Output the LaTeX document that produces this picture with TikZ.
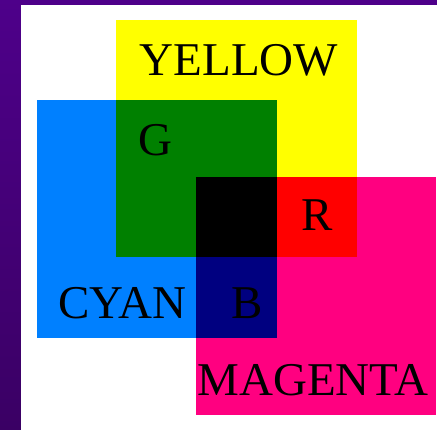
\documentclass[tikz,border=0pt]{standalone}
\usepackage{fontspec}
\setmainfont{Liberation Serif}
\definecolor{bandtop}{RGB}{78,0,138}
\definecolor{bandbot}{RGB}{58,0,100}
\definecolor{cyanc}{RGB}{0,128,255}
\definecolor{magc}{RGB}{255,0,128}
\definecolor{greenc}{RGB}{0,128,0}
\definecolor{navyc}{RGB}{0,0,128}
\definecolor{redc}{RGB}{255,0,0}
\definecolor{yelc}{RGB}{255,255,0}
\tikzset{lbl/.style={font=\fontsize{47}{47}\selectfont, anchor=base, inner sep=0pt, text=black}}
\begin{document}
\begin{tikzpicture}[x=1pt,y=-1pt]
\useasboundingbox (0,0) rectangle (437,429);
\shade[top color=bandtop, bottom color=bandbot] (-2,-2) rectangle (439,431);
\fill[white] (21,5) rectangle (440,432);
% primaries
\fill[yelc] (116,20) rectangle (357,257);
\fill[cyanc] (37,100) rectangle (277,338);
\fill[magc] (196,177) rectangle (436,415);
% overlaps
\fill[greenc] (116,100) rectangle (277,257);
\fill[navyc] (196,177) rectangle (277,338);
\fill[redc] (196,177) rectangle (357,257);
\fill[black] (196,177) rectangle (277,257);
% labels
\node[lbl] (yellow) at (239,75) {YELLOW};
\node[lbl] (g) at (155,155) {G};
\node[lbl] (r) at (317.5,230) {R};
\node[lbl] (cyan) at (122.5,318) {CYAN};
\node[lbl] (b) at (247,318) {B};
\node[lbl] (magenta) at (313,395) {MAGENTA};
\end{tikzpicture}
\end{document}
